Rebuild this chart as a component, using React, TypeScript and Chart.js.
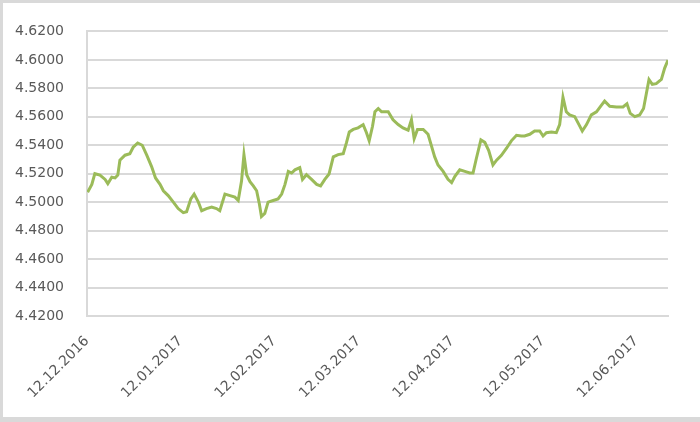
import React, { useEffect, useRef } from "react";
import { Chart, registerables } from "chart.js";

Chart.register(...registerables);

// Days since 12.12.2016
const days: number[] = [
  0.2, 1.6, 2.6, 4.3, 6.0, 6.9, 8.2, 9.3, 10.2, 10.9, 12.6, 14.2, 15.3, 16.8, 18.3, 19.8,
  21.4, 22.7, 24.2, 25.3, 26.9, 28.6, 30.2, 31.9, 33.0, 34.4, 35.5, 36.9, 38.0, 39.6, 41.3,
  42.9, 44.0, 45.7, 47.4, 49.0, 50.1, 51.2, 52.0, 52.9, 54.0, 55.1, 56.2, 57.1, 57.8, 58.9,
  60.0, 61.7, 63.3, 64.5, 65.6, 66.7, 67.8, 68.9, 70.5, 71.4, 72.7, 74.4, 76.1, 77.4, 78.8,
  80.2, 81.6, 83.2, 84.9, 86.0, 86.9, 88.2, 89.8, 91.5, 92.6, 93.5, 94.6, 95.4, 96.5, 97.6,
  99.8, 101.4, 103.1, 104.7, 106.4, 107.5, 108.4, 109.5, 111.4, 113.0, 114.1, 115.2, 116.3,
  118.0, 119.6, 120.8, 121.9, 123.5, 125.2, 126.8, 127.9, 129.0, 130.5, 131.8, 133.1, 134.5,
  135.7, 137.3, 139.0, 140.6, 142.3, 143.9, 145.0, 146.7, 148.3, 150.0, 151.1, 152.2, 153.9,
  155.5, 156.6, 157.7, 158.8, 159.9, 161.6, 163.0, 164.1, 165.5, 167.1, 168.8, 170.4, 171.5,
  173.2, 175.4, 177.6, 178.9, 180.0, 181.5, 183.1, 184.4, 185.3, 186.2, 187.3, 188.6, 190.3,
  191.4, 192.5,
];

const rates: number[] = [
  4.507, 4.5125, 4.520, 4.519, 4.516, 4.513, 4.5175, 4.517, 4.519, 4.5295, 4.533, 4.534, 4.5386,
  4.5416, 4.540, 4.533, 4.525, 4.517, 4.5125, 4.508, 4.5046, 4.500, 4.4955, 4.4926, 4.4933,
  4.5023, 4.5057, 4.500, 4.494, 4.4955, 4.4966, 4.4955, 4.494, 4.5057, 4.5046, 4.5035, 4.5012,
  4.5148, 4.5334, 4.5193, 4.5144, 4.5114, 4.508, 4.4989, 4.4899, 4.4921, 4.500, 4.5012, 4.5023,
  4.5057, 4.5125, 4.5216, 4.5205, 4.5227, 4.5243, 4.516, 4.5193, 4.516, 4.5125, 4.5114, 4.516,
  4.5198, 4.5318, 4.5334, 4.5341, 4.542, 4.5493, 4.5511, 4.5522, 4.5545, 4.5488, 4.5431, 4.5533,
  4.5635, 4.5658, 4.5635, 4.5635, 4.5579, 4.5545, 4.5522, 4.5506, 4.5579, 4.5447, 4.5511, 4.5511,
  4.5477, 4.5397, 4.5318, 4.5261, 4.5216, 4.516, 4.5137, 4.5182, 4.5227, 4.5216, 4.5205, 4.5205,
  4.5307, 4.5438, 4.542, 4.5363, 4.5261, 4.5295, 4.5329, 4.5379, 4.5431, 4.547, 4.5465, 4.5465,
  4.5477, 4.550, 4.550, 4.5465, 4.5488, 4.5493, 4.5488, 4.5545, 4.5737, 4.5635, 4.5613, 4.5601,
  4.5545, 4.550, 4.5545, 4.5613, 4.5635, 4.568, 4.571, 4.5674, 4.5669, 4.5669, 4.5692, 4.5624,
  4.5601, 4.5613, 4.5658, 4.576, 4.5862, 4.5828, 4.5833, 4.5862, 4.5942, 4.5998,
];

const tickDays: number[] = [0, 31, 62, 90, 121, 151, 182];
const tickLabels: string[] = [
  "12.12.2016",
  "12.01.2017",
  "12.02.2017",
  "12.03.2017",
  "12.04.2017",
  "12.05.2017",
  "12.06.2017",
];

const yMin = 4.42;
const yMax = 4.62;
const yStep = 0.02;

export default function App() {
  const ref = useRef<HTMLCanvasElement | null>(null);

  useEffect(() => {
    document.body.style.margin = "0";
    const canvas = ref.current;
    if (!canvas) return;
    const font = { family: "'DejaVu Sans', sans-serif", size: 14 };
    const chart = new Chart(canvas, {
      type: "line",
      data: {
        datasets: [
          {
            data: days.map((d, i) => ({ x: d, y: rates[i] })),
            borderColor: "#9bbb59",
            borderWidth: 3,
            pointRadius: 0,
            tension: 0,
            fill: false,
          },
        ],
      },
      options: {
        animation: false,
        responsive: false,
        maintainAspectRatio: false,
        layout: { padding: { left: 0, top: 22, right: 32, bottom: 0 } },
        plugins: { legend: { display: false }, tooltip: { enabled: false } },
        scales: {
          x: {
            type: "linear",
            min: 0,
            max: 192.5,
            afterFit: (s: any) => {
              s.height = 106;
            },
            afterBuildTicks: (s: any) => {
              s.ticks = tickDays.map((v) => ({ value: v }));
            },
            ticks: {
              autoSkip: false,
              minRotation: 45,
              maxRotation: 45,
              padding: 17,
              color: "#595959",
              font,
              callback: (v: any) => {
                const i = tickDays.indexOf(Number(v));
                return i >= 0 ? tickLabels[i] : "";
              },
            },
            grid: { display: false, drawTicks: false },
            border: { display: true, color: "#d9d9d9", width: 2 },
          },
          y: {
            min: yMin,
            max: yMax,
            afterFit: (s: any) => {
              s.width = 87;
            },
            ticks: {
              stepSize: yStep,
              padding: 23,
              color: "#595959",
              font,
              callback: (v: any) => Number(v).toFixed(4),
            },
            grid: { color: "#d9d9d9", lineWidth: 2, drawTicks: false },
            border: { display: true, color: "#d9d9d9", width: 2 },
          },
        },
      },
    });
    return () => chart.destroy();
  }, []);

  return (
    <div style={{ position: "relative", width: 700, height: 422, background: "#fff" }}>
      <canvas ref={ref} width={700} height={422} style={{ display: "block" }} />
      <div
        style={{
          position: "absolute",
          left: 0,
          top: 0,
          width: 700,
          height: 422,
          boxSizing: "border-box",
          borderLeft: "3px solid #d9d9d9",
          borderTop: "3px solid #d9d9d9",
          borderBottom: "5px solid #d9d9d9",
          pointerEvents: "none",
        }}
      />
    </div>
  );
}
